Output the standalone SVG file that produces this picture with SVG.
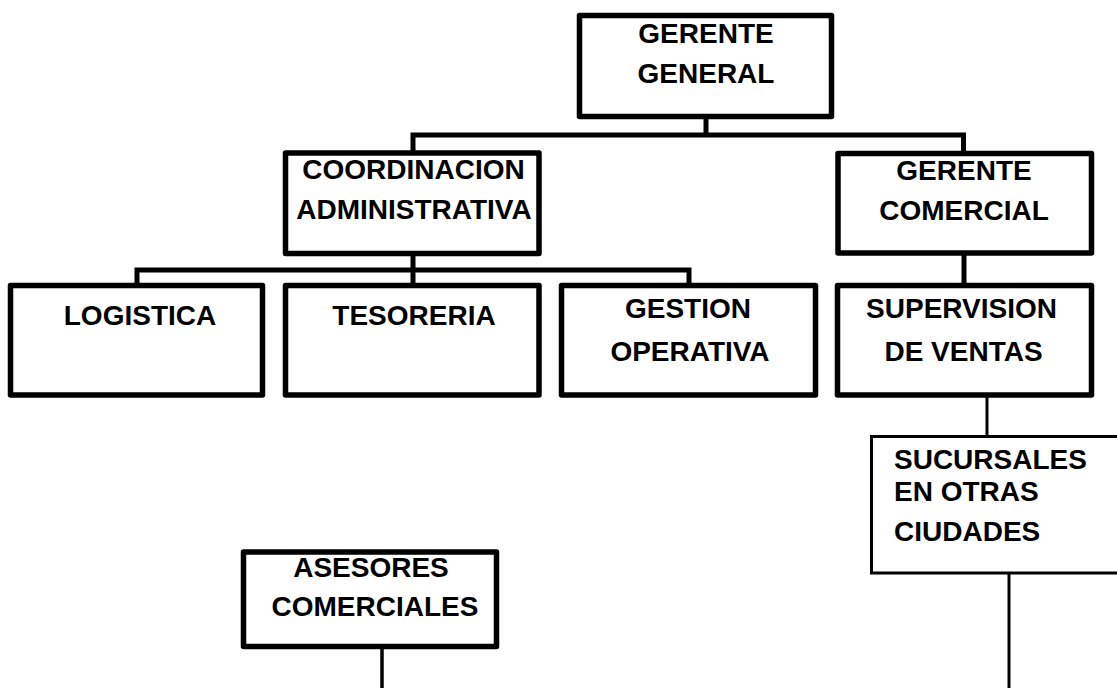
<svg xmlns="http://www.w3.org/2000/svg" width="1117" height="688" viewBox="0 0 1117 688">
<style>
.box{fill:#fff;stroke:#000;stroke-width:5.5;stroke-linejoin:round}
.thin{fill:#fff;stroke:#000;stroke-width:3}
.c{fill:none;stroke:#000;stroke-width:5;stroke-linecap:square}
.ct{fill:none;stroke:#000;stroke-width:3}
text{font-family:"Liberation Sans",Arial,sans-serif;font-weight:bold;font-size:28px;fill:#000}
.m{text-anchor:middle}
</style>
<rect width="1117" height="688" fill="#fff"/>
<g id="connectors">
<path class="c" d="M706,116 V135 M413,135 H963.5 M413,135 V153 M963.5,135 V153"/>
<path class="c" d="M413,253 V270 M137,270 H689 M137,270 V285 M413,270 V285 M689,270 V285"/>
<path class="c" d="M964,253 V285"/>
<path class="ct" d="M987,396 V436"/>
<path class="ct" d="M1009,573 V688"/>
<path class="ct" d="M382,646 V688" style="stroke-width:3.5"/>
</g>
<g id="gerente-general">
<rect class="box" x="579.5" y="15.5" width="252" height="101"/>
<text class="m" x="706" y="42.5">GERENTE</text>
<text class="m" x="706" y="83">GENERAL</text>
</g>
<g id="coordinacion">
<rect class="box" x="285.5" y="153" width="253.5" height="100.5"/>
<text class="m" x="413.5" y="179">COORDINACION</text>
<text class="m" x="414" y="219">ADMINISTRATIVA</text>
</g>
<g id="gerente-comercial">
<rect class="box" x="838" y="153.5" width="253.5" height="99.5"/>
<text class="m" x="964" y="180">GERENTE</text>
<text class="m" x="964" y="219.5">COMERCIAL</text>
</g>
<g id="logistica">
<rect class="box" x="10.5" y="285.5" width="252" height="109.5"/>
<text class="m" x="140" y="325">LOGISTICA</text>
</g>
<g id="tesoreria">
<rect class="box" x="285.5" y="285.5" width="253.5" height="109.5"/>
<text class="m" x="414" y="325">TESORERIA</text>
</g>
<g id="gestion">
<rect class="box" x="561.5" y="285.5" width="254" height="109.5"/>
<text class="m" x="688" y="318">GESTION</text>
<text class="m" x="690" y="361">OPERATIVA</text>
</g>
<g id="supervision">
<rect class="box" x="837.5" y="285.5" width="254" height="109.5"/>
<text class="m" x="961.5" y="318">SUPERVISION</text>
<text class="m" x="963.5" y="361">DE VENTAS</text>
</g>
<g id="sucursales">
<rect class="thin" x="871.5" y="436.5" width="260" height="136.5"/>
<text x="894" y="469">SUCURSALES</text>
<text x="894" y="500.5">EN OTRAS</text>
<text x="894" y="540.5">CIUDADES</text>
</g>
<g id="asesores">
<rect class="box" x="243.5" y="552" width="253" height="94.5"/>
<text class="m" x="371" y="576.5">ASESORES</text>
<text class="m" x="375" y="616">COMERCIALES</text>
</g>
</svg>
